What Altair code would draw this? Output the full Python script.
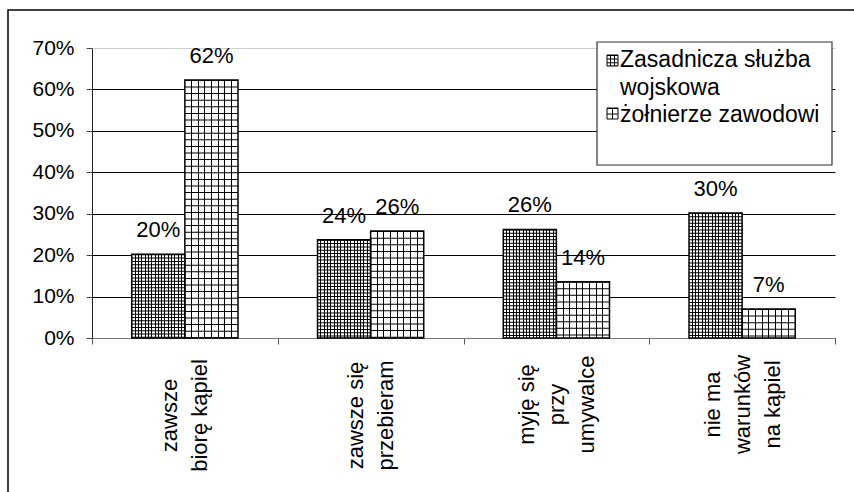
import altair as alt
import pandas as pd

# ---- data ----
categories = ["zawsze|biorę kąpiel", "zawsze się|przebieram",
              "myję się|przy|umywalce", "nie ma|warunków|na kąpiel"]
series = ["Zasadnicza służba wojskowa", "żołnierze zawodowi"]
legend_labels = ["Zasadnicza służba\nwojskowa", "żołnierze zawodowi"]
conscripts = [0.202, 0.237, 0.262, 0.302]
professionals = [0.623, 0.258, 0.136, 0.070]
y_ticks = [0, 0.1, 0.2, 0.3, 0.4, 0.5, 0.6, 0.7]

rows = []
for c, a, b in zip(categories, conscripts, professionals):
    rows.append({"category": c, "series": series[0], "value": a})
    rows.append({"category": c, "series": series[1], "value": b})
df = pd.DataFrame(rows)
legend_df = pd.DataFrame({"series": series, "label": legend_labels})
dummy = pd.DataFrame({"a": [0]})

FONT = "Liberation Sans"


def stripe_gradient(cells, px):
    h = 0.5 / px
    stops = [alt.GradientStop(offset=0, color="white")]
    for k in range(1, cells):
        c = k / cells
        stops += [alt.GradientStop(offset=c - h, color="white"),
                  alt.GradientStop(offset=c - h, color="black"),
                  alt.GradientStop(offset=c + h, color="black"),
                  alt.GradientStop(offset=c + h, color="white")]
    stops.append(alt.GradientStop(offset=1, color="white"))
    return alt.LinearGradient(gradient="linear", stops=stops, x1=0, x2=1, y1=0, y2=0)


dense_grad = stripe_gradient(16, 53)
sparse_grad = stripe_gradient(8, 53)
dense_dash = [1, 2.3]
sparse_dash = [1, 5.6]

three_lines = "length(split(datum.label, '|')) >= 3"
x_enc = alt.X(
    "category:N", sort=categories, title=None,
    scale=alt.Scale(paddingInner=0, paddingOuter=0),
    axis=alt.Axis(
        labelExpr="split(datum.label, '|')", labelAngle=270, labelAlign="center",
        labelBaseline="middle", labelFontSize=22, labelLineHeight=30,
        labelPadding={"condition": {"test": three_lines, "value": 60}, "value": 71},
        labelFont=FONT, labelColor="#000", tickBand="extent",
        labelOffset={"condition": {"test": three_lines, "value": -30}, "value": -15},
        tickSize=6, tickColor="#555", domainColor="#777", grid=False,
        labelOverlap=False, labelLimit=0, labelBound=False,
    ),
)
xo_enc = alt.XOffset("series:N", sort=series,
                     scale=alt.Scale(paddingInner=0, paddingOuter=0.749))
y_enc = alt.Y(
    "value:Q", scale=alt.Scale(domain=[0, 0.7]), title=None,
    axis=alt.Axis(
        format=".0%", values=y_ticks, labelFontSize=21, labelFont=FONT,
        labelColor="#000", labelPadding=12, tickSize=6, tickColor="#444",
        domainColor="#222",
        gridColor={"condition": {"test": "datum.value >= 0.69", "value": "#d0d0d0"},
                   "value": "#000"},
        gridWidth=1,
    ),
)

base = alt.Chart(df).encode(x=x_enc, xOffset=xo_enc, y=y_enc)

is_a = alt.datum.series == series[0]
is_b = alt.datum.series == series[1]

fill_a = base.mark_bar(fill=dense_grad, strokeWidth=0).transform_filter(is_a)
fill_b = base.mark_bar(fill=sparse_grad, strokeWidth=0).transform_filter(is_b)
hl_a = base.mark_rule(color="black", strokeWidth=53, strokeDash=dense_dash,
                      strokeCap="butt").encode(y2=alt.datum(0)).transform_filter(is_a)
hl_b = base.mark_rule(color="black", strokeWidth=53, strokeDash=sparse_dash,
                      strokeCap="butt").encode(y2=alt.datum(0)).transform_filter(is_b)
outline = base.mark_bar(fill="white", fillOpacity=0, stroke="black", strokeWidth=1.5)
labels = base.mark_text(dy=-17, baseline="alphabetic", fontSize=22, font=FONT,
                        color="#000").encode(text=alt.Text("value:Q", format=".0%"))

# outer frame
frame = alt.Chart(dummy).mark_rect(fill="white", fillOpacity=0, stroke="black",
                                   strokeWidth=1.5).encode(
    x=alt.value(-84), x2=alt.value(770), y=alt.value(-38), y2=alt.value(450))

# legend
leg_box = alt.Chart(dummy).mark_rect(fill="white", stroke="#333", strokeWidth=1.2).encode(
    x=alt.value(505), x2=alt.value(740), y=alt.value(-6), y2=alt.value(117))
sym_a = alt.Chart(dummy).mark_rect(fill=stripe_gradient(3, 11), stroke="black",
                                   strokeWidth=1).encode(
    x=alt.value(515), x2=alt.value(526), y=alt.value(7), y2=alt.value(18))
sym_a_h = alt.Chart(dummy).mark_rule(color="black", strokeWidth=11, strokeDash=[1, 2.6],
                                     strokeCap="butt").encode(
    x=alt.value(520.5), y=alt.value(7), y2=alt.value(18))
sym_b = alt.Chart(dummy).mark_rect(fill=stripe_gradient(2, 11), stroke="black",
                                   strokeWidth=1).encode(
    x=alt.value(515), x2=alt.value(526), y=alt.value(60), y2=alt.value(71))
sym_b_h = alt.Chart(dummy).mark_rule(color="black", strokeWidth=11, strokeDash=[1, 4.5],
                                     strokeCap="butt").encode(
    x=alt.value(520.5), y=alt.value(60), y2=alt.value(71))
leg_text_a = alt.Chart(legend_df).mark_text(
    align="left", baseline="middle", fontSize=23, font=FONT, lineBreak="\n",
    lineHeight=28, color="#000").encode(
    x=alt.value(528), y=alt.value(12), text="label:N").transform_filter(is_a)
leg_text_b = alt.Chart(legend_df).mark_text(
    align="left", baseline="middle", fontSize=23, font=FONT, lineBreak="\n",
    lineHeight=28, color="#000").encode(
    x=alt.value(528), y=alt.value(67), text="label:N").transform_filter(is_b)

chart = alt.layer(
    frame, fill_a, fill_b, hl_a, hl_b, outline, labels,
    leg_box, sym_a, sym_a_h, sym_b, sym_b_h, leg_text_a, leg_text_b,
).properties(
    width=743, height=290,
    padding={"left": 92, "top": 48, "right": 19, "bottom": 154},
    autosize="none", background="white",
).configure_view(stroke=None)

chart.save("out.html", embed_options={"renderer": "svg", "actions": False})
